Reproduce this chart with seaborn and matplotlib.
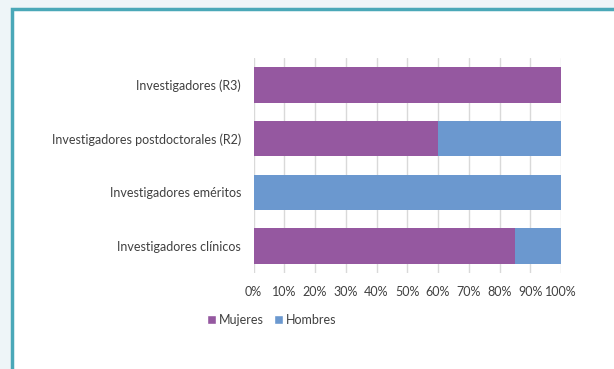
import matplotlib
matplotlib.use("Agg")
import matplotlib.pyplot as plt
import seaborn as sns
import pandas as pd
from matplotlib.patches import Rectangle, Patch

categorias = [
    "Investigadores (R3)",
    "Investigadores postdoctorales (R2)",
    "Investigadores eméritos",
    "Investigadores clínicos",
]
mujeres = [100, 60, 0, 85]
hombres = [0, 40, 100, 15]
ticks = [0, 10, 20, 30, 40, 50, 60, 70, 80, 90, 100]

COL_M = "#9558a0"
COL_H = "#6b98cf"
TXT = "#404040"

sns.set_theme(style="white")
plt.rcParams["font.family"] = ["Lato", "DejaVu Sans"]

W, H = 614, 369
fig = plt.figure(figsize=(W / 100, H / 100), dpi=100)
fig.patch.set_facecolor("#eef5f8")

# background layer: white panel with teal frame
bg = fig.add_axes([0, 0, 1, 1], zorder=-10)
bg.set_xlim(0, W)
bg.set_ylim(H, 0)
bg.axis("off")
bg.add_patch(Rectangle((12, 9), W + 20, H + 20, facecolor="white",
                       edgecolor="#4aa8b8", linewidth=2.5))

df = pd.DataFrame({"cat": categorias, "m": mujeres, "h": hombres})
df["total"] = df["m"] + df["h"]

ax = fig.add_axes([253.5 / W, (H - 273) / H, (561 - 253.5) / W, (273 - 58) / H], zorder=1)
ax.set_facecolor("none")
sns.barplot(data=df, y="cat", x="total", color=COL_H, orient="h", width=0.66,
            saturation=1, linewidth=0, ax=ax, zorder=2)
sns.barplot(data=df, y="cat", x="m", color=COL_M, orient="h", width=0.66,
            saturation=1, linewidth=0, ax=ax, zorder=3)

ax.set_xlim(0, 100)
ax.set_xticks(ticks)
ax.set_xticklabels([f"{t}%" for t in ticks], fontsize=9, color=TXT)
ax.tick_params(axis="x", length=0, pad=9)
ax.tick_params(axis="y", length=0, pad=9, labelsize=9, labelcolor=TXT)
ax.set_xlabel("")
ax.set_ylabel("")
ax.grid(axis="x", color="#d9d9d9", linewidth=1, zorder=0)
ax.set_axisbelow(True)
for s in ax.spines.values():
    s.set_visible(False)

handles = [Patch(facecolor=COL_M, label="Mujeres"), Patch(facecolor=COL_H, label="Hombres")]
fig.legend(handles=handles, loc="center", bbox_to_anchor=(272 / W, 1 - 320 / H), ncol=2,
           frameon=False, fontsize=9, handlelength=0.7, handleheight=0.7,
           handletextpad=0.25, columnspacing=0.8, labelcolor=TXT)

fig.savefig("out.png", dpi=100, facecolor=fig.get_facecolor())
